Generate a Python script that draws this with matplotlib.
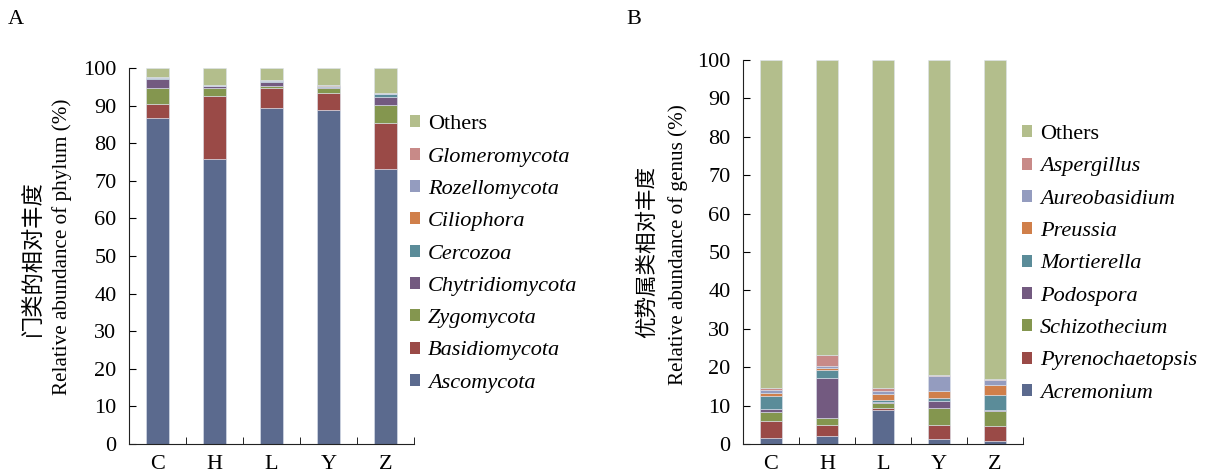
import matplotlib
matplotlib.use('Agg')
import matplotlib.pyplot as plt
from matplotlib.patches import Patch
import numpy as np

plt.rcParams['font.family'] = ['Liberation Serif', 'Noto Sans CJK SC']
plt.rcParams['font.size'] = 16

samples = ['C', 'H', 'L', 'Y', 'Z']

# phylum level (%), bottom to top
phyla = ['Ascomycota', 'Basidiomycota', 'Zygomycota', 'Chytridiomycota', 'Cercozoa',
         'Ciliophora', 'Rozellomycota', 'Glomeromycota', 'Others']
ascomycota = [86.7, 75.9, 89.3, 88.9, 73.1]
basidiomycota = [3.8, 16.7, 5.5, 4.4, 12.3]
zygomycota = [4.2, 2.2, 0.5, 1.3, 4.7]
chytridiomycota = [2.4, 0.4, 1.1, 0.4, 2.3]
cercozoa = [0.2, 0.1, 0.1, 0.1, 0.7]
ciliophora = [0.0, 0.0, 0.0, 0.3, 0.1]
rozellomycota = [0.3, 0.2, 0.2, 0.1, 0.2]
glomeromycota = [0.0, 0.0, 0.0, 0.0, 0.0]
others_phylum = [2.4, 4.5, 3.3, 4.5, 6.6]

# genus level (%), bottom to top
genera = ['Acremonium', 'Pyrenochaetopsis', 'Schizothecium', 'Podospora', 'Mortierella',
          'Preussia', 'Aureobasidium', 'Aspergillus', 'Others']
acremonium = [1.5, 2.0, 8.9, 1.3, 0.9]
pyrenochaetopsis = [4.4, 2.9, 0.6, 3.7, 3.9]
schizothecium = [2.5, 2.0, 1.3, 4.4, 3.9]
podospora = [0.6, 10.3, 0.2, 1.7, 0.2]
mortierella = [3.6, 2.0, 0.5, 0.9, 3.9]
preussia = [0.7, 0.6, 1.6, 1.9, 2.5]
aureobasidium = [0.8, 0.4, 0.7, 3.8, 1.4]
aspergillus = [0.5, 3.0, 0.8, 0.3, 0.2]
others_genus = [85.4, 76.8, 85.4, 82.0, 83.1]

colors = ['#5b6a8e', '#9a4a47', '#84964f', '#735a80', '#5b8c99',
          '#d07f4a', '#949cbf', '#c88a88', '#b3be8c']

W, H = 1207, 472
fig = plt.figure(figsize=(W / 100, H / 100), dpi=100)


def stacked(ax, series):
    x = np.arange(len(samples))
    bottom = np.zeros(len(samples))
    for vals, c in zip(series, colors):
        ax.bar(x, vals, 0.4, bottom=bottom, color=c, edgecolor='#dde3ee', linewidth=0.4)
        bottom += np.array(vals)
    ax.set_xlim(-0.5, 4.5)
    ax.set_ylim(0, 100)
    ax.set_yticks(range(0, 101, 10))
    ax.set_xticks(x)
    ax.set_xticklabels(samples)
    ax.set_xticks(np.arange(-0.5, 5, 1), minor=True)
    ax.tick_params(axis='x', which='major', length=0, pad=8)
    ax.tick_params(axis='x', which='minor', direction='in', length=5)
    ax.tick_params(axis='y', direction='in', length=5, pad=9)
    for s in ['top', 'right']:
        ax.spines[s].set_visible(False)
    for s in ['left', 'bottom']:
        ax.spines[s].set_color('#222222')


axA = fig.add_axes([129 / W, 1 - 444 / H, 285 / W, 376 / H])
stacked(axA, [ascomycota, basidiomycota, zygomycota, chytridiomycota, cercozoa,
              ciliophora, rozellomycota, glomeromycota, others_phylum])

axB = fig.add_axes([743 / W, 1 - 444 / H, 280 / W, 384 / H])
stacked(axB, [acremonium, pyrenochaetopsis, schizothecium, podospora, mortierella,
              preussia, aureobasidium, aspergillus, others_genus])

# two-line y labels: chinese line and english line
fig.text(33 / W, 1 - 258 / H, '门类的相对丰度', rotation=90, fontsize=16,
         ha='center', va='center')
fig.text(62 / W, 1 - 247 / H, 'Relative abundance of phylum (%)', rotation=90,
         fontsize=15.2, ha='center', va='center')
fig.text(648 / W, 1 - 252 / H, '优势属类相对丰度', rotation=90, fontsize=15.5,
         ha='center', va='center')
fig.text(678 / W, 1 - 245 / H, 'Relative abundance of genus (%)', rotation=90,
         fontsize=15.2, ha='center', va='center')


def add_legend(names, x, y):
    handles = [Patch(facecolor=c, edgecolor='none') for c in colors][::-1]
    leg = fig.legend(handles, names[::-1], loc='center left',
                     bbox_to_anchor=(x / W, 1 - y / H), frameon=False,
                     handlelength=0.45, handleheight=0.45, handletextpad=0.35,
                     labelspacing=0.6, borderpad=0, borderaxespad=0, fontsize=16)
    for t in leg.get_texts():
        if t.get_text() != 'Others':
            t.set_style('italic')


add_legend(phyla, 410, 254)
add_legend(genera, 1022, 264)

fig.text(8 / W, 1 - 20 / H, 'A', fontsize=16, va='center', ha='left')
fig.text(626 / W, 1 - 20 / H, 'B', fontsize=16, va='center', ha='left')

fig.savefig('out.png', dpi=100)
